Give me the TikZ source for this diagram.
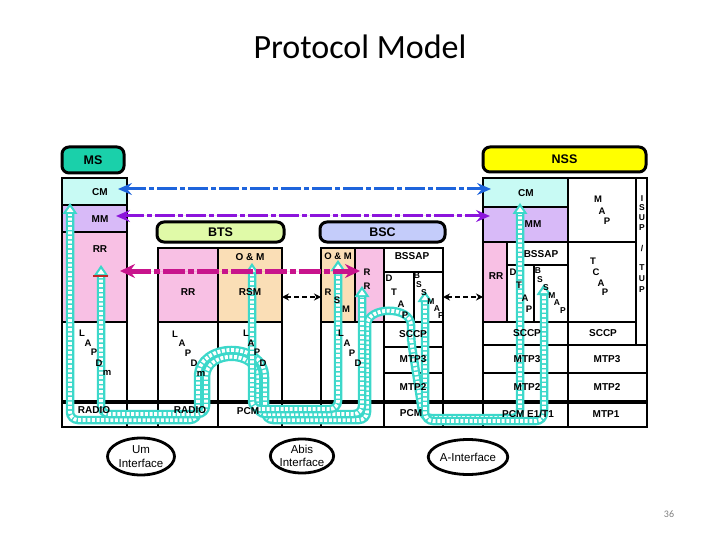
\documentclass[tikz,border=0pt]{standalone}
\usepackage{fontspec}
\setmainfont{Liberation Sans}
\newfontfamily\titlefont{Carlito}
\usetikzlibrary{arrows.meta,shapes.geometric}
\definecolor{msteal}{RGB}{26,208,170}
\definecolor{cmcol}{RGB}{200,250,244}
\definecolor{mmcol}{RGB}{216,186,248}
\definecolor{rrcol}{RGB}{248,192,228}
\definecolor{omcol}{RGB}{250,222,182}
\definecolor{btscol}{RGB}{224,250,168}
\definecolor{bsccol}{RGB}{196,204,250}
\definecolor{nsscol}{RGB}{255,255,0}
\definecolor{cBlue}{RGB}{30,100,220}
\definecolor{cPurple}{RGB}{140,20,220}
\definecolor{cMag}{RGB}{200,20,140}
\definecolor{turq}{RGB}{60,216,202}
\definecolor{cRed}{RGB}{190,40,40}
\newcommand\mkcell[6][white]{\node[cellbox,fill=#1,minimum width={(#5-#3)*1pt},minimum height={(#6-#4)*1pt}] (#2) at (#3,#4) {};}
\newcommand\lab[4][lbl]{\node[#1] (#2) at (#3) {#4};}
\newcommand\ribbon[1]{\draw[ribout] #1; \draw[ribin] #1;}
\newcommand\rhead[2]{%
  \fill[turq] (#1-7.5,#2+11) -- (#1,#2) -- (#1+7.5,#2+11) -- cycle;
  \fill[white] (#1-3.5,#2+9) -- (#1,#2+4) -- (#1+3.5,#2+9) -- cycle;}
\begin{document}
\begin{tikzpicture}[x=1pt,y=-1pt,
  cellbox/.style={draw=black,line width=2.8pt,inner sep=0pt,outer sep=0pt,anchor=north west},
  hdr/.style={draw=black,line width=3pt,rounded corners=7pt,inner sep=0pt,outer sep=0pt,anchor=north west,font=\fontsize{12.5}{13}\selectfont\bfseries},
  lbl/.style={inner sep=0pt,font=\fontsize{10}{10}\selectfont\bfseries},
  st/.style={inner sep=0pt,font=\fontsize{9.5}{9.5}\selectfont\bfseries},
  sst/.style={inner sep=0pt,font=\fontsize{8.5}{8.5}\selectfont\bfseries},
  ribout/.style={draw=turq,line width=8.5pt,rounded corners=8pt},
  ribin/.style={draw=white,line width=3.8pt,dash pattern=on 3pt off 1.6pt,rounded corners=8pt},
  bluearr/.style={draw=cBlue,line width=3pt,dash pattern=on 20pt off 3pt on 5pt off 3pt,
     arrows={Stealth[length=14pt,width=12pt,inset=5pt]-Stealth[length=14pt,width=12pt,inset=5pt]}},
  purparr/.style={bluearr,draw=cPurple,fill=cPurple},
  magarr/.style={draw=cMag,fill=cMag,line width=5pt,dash pattern=on 22pt off 3pt on 6pt off 3pt,
     arrows={Stealth[length=15pt,width=14pt,inset=5pt]-Stealth[length=15pt,width=14pt,inset=5pt]}},
  sarrow/.style={draw=black,line width=1.8pt,dash pattern=on 5pt off 3pt,
     arrows={Stealth[length=7pt,width=7pt]-Stealth[length=7pt,width=7pt]}},
  iface/.style={ellipse,draw=black,line width=2.8pt,inner sep=0pt,align=center,font=\fontsize{11.5}{13.5}\selectfont}
]
\useasboundingbox (0,0) rectangle (720,540);
% title and page number
\node[font=\titlefont\fontsize{34}{40}\selectfont] (title) at (360,47) {Protocol Model};
\node[font=\titlefont\fontsize{10}{12}\selectfont,text=gray] (pg) at (669,514) {36};

% headers
\node[hdr,fill=msteal,minimum width=62pt,minimum height=26pt] (ms) at (62,147) {MS};
\node[hdr,fill=nsscol,minimum width=163pt,minimum height=25pt] (nss) at (483,147) {NSS};
\node[hdr,fill=btscol,minimum width=127pt,minimum height=20pt] (bts) at (157,222) {BTS};
\node[hdr,fill=bsccol,minimum width=125pt,minimum height=20pt] (bsc) at (320,222) {BSC};

% MS stack
\mkcell[cmcol]{msCM}{62}{178}{127}{205}
\mkcell[mmcol]{msMM}{62}{205}{127}{232}
\mkcell[rrcol]{msRR}{62}{232}{127}{322}
\mkcell{msLAPD}{62}{322}{127}{402}
\mkcell{msRADIO}{62}{402}{127}{427}
\mkcell{gapA}{127}{402}{158}{427}
% BTS stack
\mkcell[rrcol]{btsRR}{158}{248}{218}{322}
\mkcell[omcol]{btsOM}{218}{248}{282}{322}
\mkcell{btsLAPDm}{158}{322}{218}{402}
\mkcell{btsLAPD}{218}{322}{282}{402}
\mkcell{btsRADIO}{158}{402}{218}{427}
\mkcell{btsPCM}{218}{402}{282}{427}
\mkcell{gapB}{282}{402}{321}{427}
% BSC stack
\mkcell[omcol]{bscOM}{321}{248}{355}{322}
\mkcell[rrcol]{bscRR}{355}{248}{384}{322}
\mkcell{bscBSSAP}{384}{248}{443}{272}
\mkcell{bscDTAP}{384}{272}{414}{322}
\mkcell{bscBSSMAP}{414}{272}{443}{322}
\mkcell{bscLAPD}{321}{322}{384}{402}
\mkcell{bscSCCP}{384}{322}{443}{347}
\mkcell{bscMTP3}{384}{347}{443}{373}
\mkcell{bscMTP2}{384}{373}{443}{402}
\mkcell{bscE}{321}{402}{384}{427}
\mkcell{bscPCM}{384}{402}{443}{427}
\mkcell{gapC}{443}{402}{483}{427}
% NSS stack
\mkcell[cmcol]{nssCM}{483}{178}{568}{207}
\mkcell[mmcol]{nssMM}{483}{207}{568}{242}
\mkcell[rrcol]{nssRR}{483}{242}{507}{322}
\mkcell{nssBSSAP}{507}{242}{568}{265}
\mkcell{nssDTAP}{507}{265}{534}{322}
\mkcell{nssBSSMAP}{534}{265}{568}{322}
\mkcell{nssSCCP}{483}{322}{568}{345}
\mkcell{nssMTP3}{483}{345}{568}{373}
\mkcell{nssMTP2}{483}{373}{568}{402}
\mkcell{nssPCM}{483}{402}{568}{427}
\mkcell{nssMAP}{568}{178}{636}{242}
\mkcell{nssTCAP}{568}{242}{636}{322}
\mkcell{nssSCCPb}{568}{322}{636}{345}
\mkcell{nssISUP}{636}{178}{647}{345}
\mkcell{nssMTP3b}{568}{345}{647}{373}
\mkcell{nssMTP2b}{568}{373}{647}{402}
\mkcell{nssMTP1}{568}{402}{647}{427}

% thick physical-layer line
\draw[line width=4.8pt] (msLAPD.south west) -- (nssMTP2b.south east);

% ribbons
\ribbon{(70,213) -- (70,420) -- (198,420) -- (198,385) .. controls (198,341) and (265,341) .. (265,385) -- (265,420) -- (367,420) -- (367,333) .. controls (367,306) and (411,306) .. (411,333) -- (411,340) -- (420,398) -- (423,418) -- (520,418) -- (520,213)}
\ribbon{(101,275) -- (101,414) -- (206,414) -- (206,385) .. controls (206,350) and (257,350) .. (257,385) -- (257,414) -- (362,414) -- (362,296)}
\ribbon{(252,273) -- (252,409) -- (338,409) -- (338,270)}
\ribbon{(425,301) -- (425,421) -- (544,421) -- (544,294)}
\rhead{70}{203}
\rhead{101}{265}
\rhead{252}{263}
\rhead{338}{260}
\rhead{362}{286}
\rhead{425}{291}
\rhead{520}{203}
\rhead{544}{284}
\draw[line width=2pt,cRed] (93,276) -- (108,276);

% peer arrows
\draw[bluearr] ([xshift=-9pt,yshift=2.5pt]msCM.east) -- ([xshift=8pt,yshift=3.5pt]nssCM.west);
\draw[purparr] ([xshift=-11pt,yshift=2.5pt]msMM.east) -- ([xshift=7pt,yshift=8.5pt]nssMM.west);
\draw[magarr] ([xshift=-7pt,yshift=6pt]msRR.east) -- ([xshift=5pt,yshift=14pt]bscRR.west);
\draw[sarrow] ([yshift=-12pt]btsOM.east) -- ([yshift=-12pt]bscOM.west);
\draw[sarrow] (bscBSSMAP.east) -- ([yshift=-15pt]nssRR.west);

% labels
\lab{tMsCM}{100,192}{CM}
\lab{tMsMM}{100,219}{MM}
\lab{tMsRR}{100,249}{RR}
\lab{tMsRADIO}{94,410}{RADIO}
\lab{tBtsRR}{188,292}{RR}
\lab{tBtsOM}{250,257}{O \& M}
\lab{tBtsRSM}{250,292}{RSM}
\lab{tBtsRADIO}{190,410}{RADIO}
\lab{tBtsPCM}{248,411}{PCM}
\lab[st]{tBscOM}{338,256}{O \& M}
\lab{tBscBSSAP}{412,256}{BSSAP}
\lab{tBscSCCP}{413,334}{SCCP}
\lab{tBscMTP3}{413,359}{MTP3}
\lab{tBscMTP2}{413,387}{MTP2}
\lab{tBscPCM}{411,413}{PCM}
\lab{tNssCM}{526,193}{CM}
\lab{tNssMM}{533,224}{MM}
\lab{tNssRR}{496,276}{RR}
\lab{tNssBSSAP}{541,254}{BSSAP}
\lab{tNssSCCP}{527,333}{SCCP}
\lab{tNssMTP3}{527,359}{MTP3}
\lab{tNssMTP2}{527,387}{MTP2}
\lab{tNssPCM}{528,414}{PCM E1/T1}
\lab{tNssSCCPb}{603,333}{SCCP}
\lab{tNssMTP3b}{607,359}{MTP3}
\lab{tNssMTP2b}{607,387}{MTP2}
\lab{tNssMTP1}{606,414}{MTP1}

% staircase labels
\foreach \t/\x/\y [count=\i] in {L/82/333,A/88/343,P/94/352,D/99/363,m/107/373}
  \node[st] (msS\i) at (\x,\y) {\t};
\foreach \t/\x/\y [count=\i] in {L/175/334,A/182/343,P/188/353,D/194/363,m/201/374}
  \node[st] (btsS\i) at (\x,\y) {\t};
\foreach \t/\x/\y [count=\i] in {L/246/333,A/251/343,P/257/352,D/263/363}
  \node[st] (btsT\i) at (\x,\y) {\t};
\foreach \t/\x/\y [count=\i] in {L/341/333,A/347/343,P/352/353,D/358/363}
  \node[st] (bscL\i) at (\x,\y) {\t};
\foreach \t/\x/\y [count=\i] in {R/328/292,S/337/300,M/346/309}
  \node[st] (bscR\i) at (\x,\y) {\t};
\foreach \t/\x/\y [count=\i] in {R/367/272,R/367/286}
  \node[st] (bscRR\i) at (\x,\y) {\t};
\foreach \t/\x/\y [count=\i] in {D/389/278,T/394/292,A/401/304,P/405/315}
  \node[st] (bscD\i) at (\x,\y) {\t};
\foreach \t/\x/\y [count=\i] in {B/417/276,S/419/285,S/424/293,M/431/302,A/437/309,P/441/316}
  \node[sst] (bscB\i) at (\x,\y) {\t};
\foreach \t/\x/\y [count=\i] in {D/513/272,T/519/285,A/525/298,P/529/309}
  \node[st] (nssD\i) at (\x,\y) {\t};
\foreach \t/\x/\y [count=\i] in {B/538/271,S/540/280,S/546/288,M/552/296,A/557/303,P/563/311}
  \node[sst] (nssB\i) at (\x,\y) {\t};
\foreach \t/\x/\y [count=\i] in {M/598/199,A/602/211,P/607/221}
  \node[st] (nssM\i) at (\x,\y) {\t};
\foreach \t/\x/\y [count=\i] in {T/593/261,C/596/272,A/601/283,P/605/292}
  \node[st] (nssT\i) at (\x,\y) {\t};
\foreach \t/\x/\y [count=\i] in {I/642/199,S/642/208,U/642/218,P/642/228,T/642/268,U/642/279,P/642/290}
  \node[sst] (nssI\i) at (\x,\y) {\t};
\node[sst] (nssSlash) at (642,249) {/};

% interfaces
\node[iface,minimum width=67pt,minimum height=37pt] (um) at (141,456.5) {Um\\Interface};
\node[iface,minimum width=63pt,minimum height=34pt] (abis) at (302,456) {Abis\\Interface};
\node[iface,minimum width=67pt,minimum height=35pt] (aif) at (468,457) {A-Interface};
\end{tikzpicture}
\end{document}
